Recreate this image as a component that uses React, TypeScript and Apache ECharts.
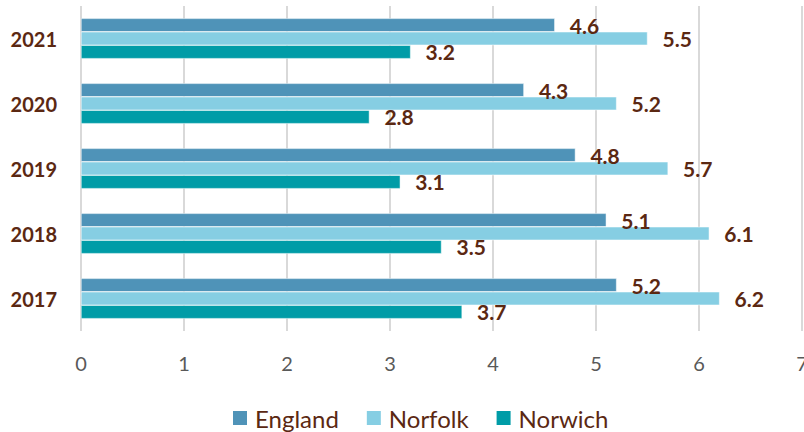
import React, { useEffect, useRef } from "react";
import * as echarts from "echarts";

const years = ["2017", "2018", "2019", "2020", "2021"];
const england = [5.2, 5.1, 4.8, 4.3, 4.6];
const norfolk = [6.2, 6.1, 5.7, 5.2, 5.5];
const norwich = [3.7, 3.5, 3.1, 2.8, 3.2];
const xTicks = [0, 1, 2, 3, 4, 5, 6, 7];

const FONT = "Lato, 'Open Sans', sans-serif";
const LABEL_COLOR = "#5b2812";

export default function App() {
  const ref = useRef<HTMLDivElement>(null);
  useEffect(() => {
    document.body.style.margin = "0";
    const chart = echarts.init(ref.current!, undefined, { renderer: "svg" });
    const mk = (name: string, data: number[], color: string) => ({
      name,
      type: "bar",
      data,
      barGap: "0%",
      barCategoryGap: "38%",
      itemStyle: { color, borderColor: "#ffffff", borderWidth: 0.5 },
      label: {
        show: true,
        position: "right",
        distance: 15,
        fontFamily: FONT,
        fontWeight: "bold",
        fontSize: 21,
        color: LABEL_COLOR,
        formatter: (p: any) => p.value.toFixed(1),
      },
    });
    chart.setOption({
      animation: false,
      grid: { left: 81, right: 2, top: 6, bottom: 101, containLabel: false, outerBoundsMode: "none" },
      legend: {
        left: 226,
        top: 401,
        itemWidth: 16,
        itemHeight: 16,
        itemGap: 26,
        icon: "rect",
        textStyle: { fontFamily: FONT, fontSize: 24, color: LABEL_COLOR, padding: [0, 0, 0, 2] },
        data: ["England", "Norfolk", "Norwich"],
      },
      xAxis: {
        type: "value",
        min: 0,
        max: 7,
        interval: 1,
        axisLine: { show: false },
        axisTick: { show: false },
        splitLine: { show: true, lineStyle: { color: "#d9d9d9", width: 2 } },
        axisLabel: {
          fontFamily: FONT,
          fontSize: 20,
          color: "#595959",
          margin: 22,
          formatter: (v: number) => (xTicks.includes(v) ? String(v) : ""),
        },
      },
      yAxis: {
        type: "category",
        data: years,
        axisLine: { show: false },
        axisTick: { show: false },
        axisLabel: {
          fontFamily: FONT,
          fontSize: 20,
          fontWeight: "bold",
          color: LABEL_COLOR,
          margin: 24,
        },
      },
      series: [
        mk("England", england, "#4f93b8"),
        mk("Norfolk", norfolk, "#86cee3"),
        mk("Norwich", norwich, "#009ca7"),
      ],
    });
    return () => chart.dispose();
  }, []);
  return <div ref={ref} style={{ width: 804, height: 432 }} />;
}
